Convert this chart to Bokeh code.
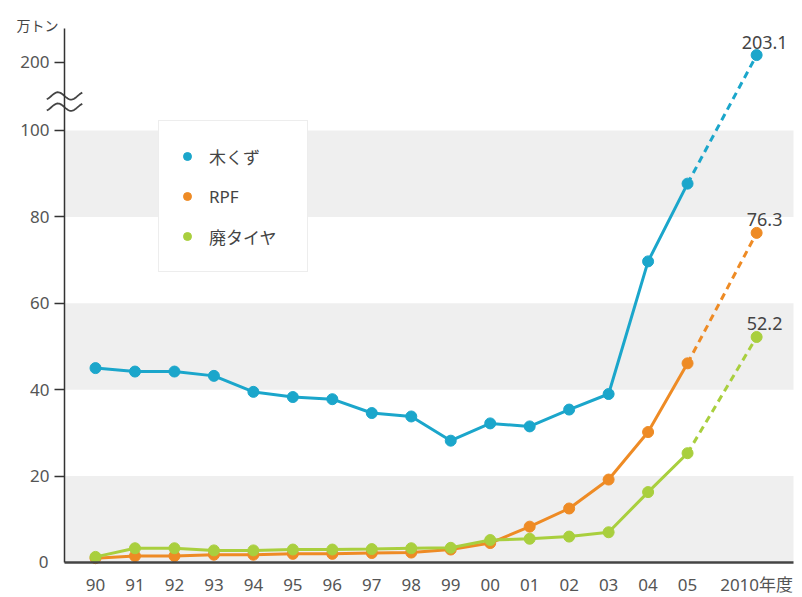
import numpy as np
from bokeh.plotting import figure
from bokeh.models import (Range1d, FixedTicker, BoxAnnotation, Label, Legend, LegendItem,
                          ColumnDataSource)
from bokeh.core.properties import value
from bokeh.embed import file_html
from bokeh.resources import INLINE

# ---- data ----
years = ["90", "91", "92", "93", "94", "95", "96", "97", "98", "99",
         "00", "01", "02", "03", "04", "05", "2010年度"]
x_pos = [0, 1, 2, 3, 4, 5, 6, 7, 8, 9, 10, 11, 12, 13, 14, 15, 16.75]

wood = [45.0, 44.2, 44.2, 43.2, 39.5, 38.3, 37.8, 34.6, 33.8, 28.2,
        32.2, 31.5, 35.4, 39.0, 69.7, 87.7, 203.1]
rpf = [1.0, 1.5, 1.5, 1.8, 1.8, 2.0, 2.0, 2.2, 2.3, 3.0,
       4.5, 8.3, 12.5, 19.2, 30.2, 46.1, 76.3]
tire = [1.3, 3.3, 3.3, 2.8, 2.8, 3.0, 3.0, 3.1, 3.3, 3.4,
        5.2, 5.5, 6.0, 7.0, 16.3, 25.3, 52.2]

names = ["木くず", "RPF", "廃タイヤ"]
colors = ["#1ba6cb", "#ee8b25", "#a9cf3e"]
y_ticks = [20, 40, 60, 80, 100, 200]
unit = "万トン"

# broken axis: values above 100 are compressed
POS200 = 115.75
def disp(v):
    return v if v <= 100 else POS200 + (v - 200) * 0.55

FONT = "Noto Sans, Noto Sans CJK JP"
AX_X = -0.785          # where the y axis sits
X_END = 17.684         # end of the x axis line / bands
Y_AXIS_TOP = 123.6

p = figure(width=802, height=597, x_range=Range1d(-2.4069, 17.912), y_range=Range1d(-8.102, 130.09),
           output_backend="svg", toolbar_location=None,
           min_border_left=0, min_border_right=0, min_border_top=0, min_border_bottom=0)
p.outline_line_color = None
p.xgrid.visible = False
p.ygrid.visible = False

for lo, hi in [(0, 20), (40, 60), (80, 100)]:
    p.add_layout(BoxAnnotation(left=AX_X, right=X_END, bottom=lo, top=hi, fill_color="#efefef",
                               fill_alpha=1, line_color=None, level="underlay"))

legend_items = []
for name, col, vals in zip(names, colors, [wood, rpf, tire]):
    ys = [disp(v) for v in vals]
    p.line(x_pos[:-1], ys[:-1], line_color=col, line_width=3)
    p.line(x_pos[-2:], ys[-2:], line_color=col, line_width=3, line_dash="7 5")
    r = p.scatter(x_pos, ys, size=11, fill_color=col, line_color=col)
    legend_items.append(LegendItem(label=name, renderers=[r]))
    src = ColumnDataSource(dict(x=[x_pos[-1]], y=[ys[-1]], t=[f"{vals[-1]:.1f}"]))
    p.text(x="x", y="y", text="t", source=src, text_align="center", text_baseline="alphabetic",
           x_offset=8, y_offset=-13, text_font=value(FONT), text_font_size="18px",
           text_color="#444444")

legend = Legend(items=legend_items, location=(158, 325), orientation="vertical",
                label_text_font=FONT, label_text_font_size="17px", label_text_color="#444444",
                glyph_width=20, glyph_height=20, label_standoff=12, label_width=80,
                label_height=34, spacing=6, padding=18, margin=0,
                border_line_color="#dcdcdc", border_line_width=1.5,
                background_fill_color="white", background_fill_alpha=1)
p.add_layout(legend, "center")

# axes (fixed in place inside the frame)
p.xaxis.fixed_location = 0
p.xaxis.bounds = (AX_X, X_END)
p.xaxis.ticker = FixedTicker(ticks=x_pos)
p.xaxis.major_label_overrides = {x: lbl for x, lbl in zip(x_pos, years)}
p.xaxis.major_tick_line_color = None
p.xaxis.minor_tick_line_color = None
p.xaxis.axis_line_color = "#444444"
p.xaxis.axis_line_width = 2.5
p.xaxis.major_label_standoff = 5
p.xaxis.major_label_text_font = FONT
p.xaxis.major_label_text_font_size = "17px"
p.xaxis.major_label_text_color = "#555555"

p.yaxis.fixed_location = AX_X
p.yaxis.bounds = (0, Y_AXIS_TOP)
p.yaxis.ticker = FixedTicker(ticks=[disp(v) for v in y_ticks])
p.yaxis.major_label_overrides = {disp(v): str(v) for v in y_ticks}
p.yaxis.major_tick_out = 10
p.yaxis.major_tick_in = 0
p.yaxis.minor_tick_line_color = None
p.yaxis.axis_line_color = "#333333"
p.yaxis.axis_line_width = 1.5
p.yaxis.major_tick_line_color = "#333333"
p.yaxis.major_tick_line_width = 1.5
p.yaxis.major_label_standoff = 5
p.yaxis.major_label_text_font = FONT
p.yaxis.major_label_text_font_size = "17px"
p.yaxis.major_label_text_color = "#555555"

# zero label (no tick there), unit label
p.add_layout(Label(x=AX_X, y=0, text="0", x_offset=-16, text_align="right",
                   text_baseline="middle", text_font=FONT, text_font_size="17px",
                   text_color="#555555"))
p.add_layout(Label(x=-1.47, y=124.3, text=unit, text_align="center", text_baseline="middle",
                   text_font=FONT, text_font_size="14px", text_color="#444444"))

# axis break mark (two small waves across the axis)
t = np.linspace(-0.35 * np.pi, 2.35 * np.pi, 40)
wx = AX_X + (t - np.pi) / (2.7 * np.pi) * 0.9
for yc in [108.0, 105.4]:
    p.line(wx, yc + 0.85 * np.sin(t), line_color="#444444", line_width=1.8)

open("out.html", "w").write(file_html(p, INLINE))
